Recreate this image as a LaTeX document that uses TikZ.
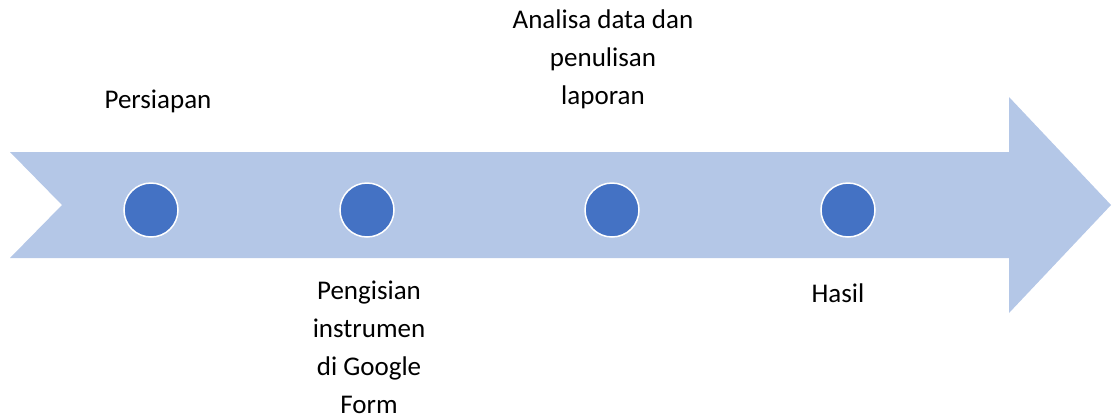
\documentclass[tikz,border=0pt]{standalone}
\usepackage{fontspec}
\setmainfont{Carlito}
\usepackage{tikz}
\definecolor{arrowblue}{HTML}{B4C7E7}
\definecolor{dotblue}{HTML}{4472C4}
\tikzset{dot/.style={circle, fill=dotblue, draw=white, line width=1.5pt, minimum size=54pt, inner sep=0pt}}
\tikzset{steptext/.style={inner sep=0pt, align=center, font=\fontsize{27}{38}\selectfont}}

\begin{document}
\begin{tikzpicture}[x=1pt,y=-1pt]
  \useasboundingbox (0,0) rectangle (1112,416);
  % the timeline arrow
  \fill[arrowblue] (10,152) -- (1009,152) -- (1009,97) -- (1111,205)
    -- (1009,313) -- (1009,258) -- (10,258) -- (62,205) -- cycle;
  \foreach \x/\lab in {
    151/1,
    367/2,
    612/3,
    848/4%
  } {
    \node[dot] (dot\lab) at (\x, 210) {};
  }
  \node[steptext, anchor=base] (persiapan) at (158,108) {Persiapan};
  \node[steptext, anchor=north] (pengisian) at (369,281) {Pengisian\\instrumen\\di Google\\Form};
  \node[steptext, anchor=north] (analisa) at (603,10) {Analisa data dan\\penulisan\\laporan};
  \node[steptext, anchor=base] (hasil) at (838,302) {Hasil};
\end{tikzpicture}
\end{document}
